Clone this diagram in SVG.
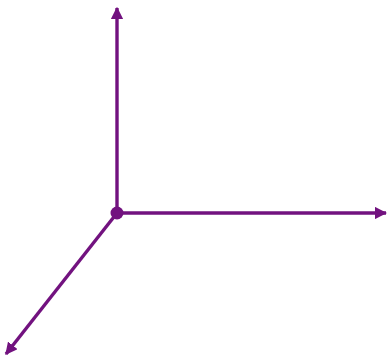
<svg xmlns="http://www.w3.org/2000/svg" width="388" height="360" viewBox="0 0 388 360">
<defs>
<marker id="ah" viewBox="0 0 10 10" refX="9" refY="5" markerWidth="3.6" markerHeight="3.6" markerUnits="strokeWidth" orient="auto">
<path d="M0,0 L10,5 L0,10 Z" fill="#72127f"/>
</marker>
<style>.ax{stroke:#72127f;stroke-width:3.4;fill:none;marker-end:url(#ah)}</style>
</defs>
<rect width="388" height="360" fill="#ffffff"/>
<g id="connectors">
<line class="ax" x1="117" y1="213" x2="117" y2="8"/>
<line class="ax" x1="117" y1="213" x2="386" y2="213"/>
<line class="ax" x1="117" y1="213" x2="6" y2="354"/>
</g>
<g id="origin">
<circle cx="117" cy="213" r="6.5" fill="#72127f"/>
</g>
</svg>
